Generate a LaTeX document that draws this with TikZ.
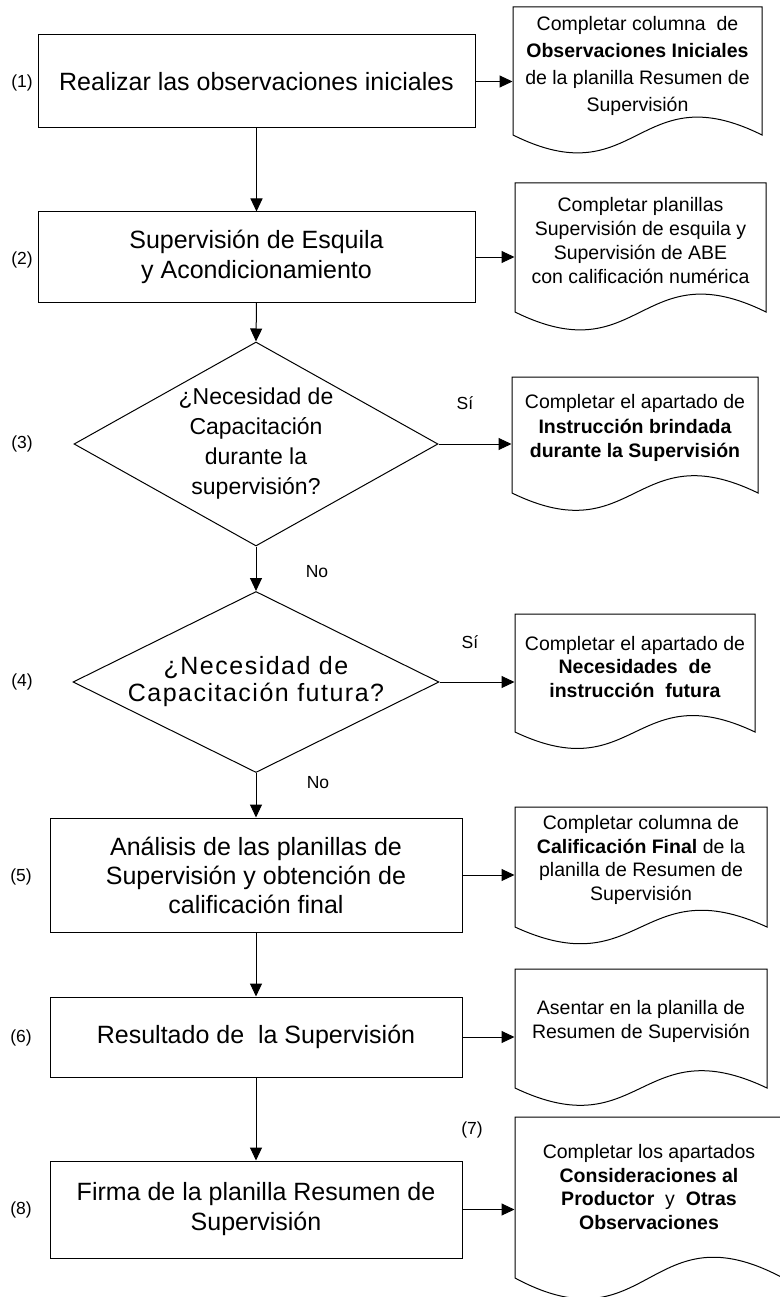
\documentclass[tikz,border=0pt]{standalone}
\usepackage{fontspec}
\setmainfont{Liberation Sans}
\newfontfamily\trk[LetterSpace=6]{Liberation Sans}
\usetikzlibrary{arrows.meta,shapes.geometric}
\newcommand\mydocshape[5]{%
  \draw[docline] (#1,#4) -- (#1,#3) -- (#2,#3) -- (#2,#4)
    .. controls ({(#1+#2)/2},{#4-#5}) and ({(#1+#2)/2},{#4+#5}) .. (#1,#4) -- cycle;}
\begin{document}
\begin{tikzpicture}[x=1pt,y=-1pt,line width=1pt,
  proc/.style={draw, rectangle, inner sep=0pt, align=center, font=\fontsize{25}{30}\selectfont},
  decision/.style={draw, diamond, inner sep=0pt},
  dtext/.style={align=center, inner sep=0pt},
  doctext/.style={align=center, inner sep=0pt, font=\fontsize{19.5}{24}\selectfont},
  docline/.style={draw, line width=1pt},
  lbl/.style={inner sep=0pt, font=\fontsize{17.5}{20}\selectfont},
  flow/.style={draw, -{Triangle[length=13pt,width=12pt]}},
]
\useasboundingbox (0,0) rectangle (779,1297);

% process boxes
\node[proc, minimum width=437, minimum height=93] (box1) at (256.5,81.5) {Realizar las observaciones iniciales};
\node[proc, minimum width=437, minimum height=90] (box2) at (256.5,257) {Supervisión de Esquila\\y Acondicionamiento};
\node[decision, minimum width=364, minimum height=204] (d1) at (256,444) {};
\node[dtext, font=\fontsize{23}{30}\selectfont] (d1t) at (d1.center) {¿Necesidad de\\Capacitación\\durante la\\supervisión?};
\node[decision, minimum width=366, minimum height=181] (d2) at (256,682) {};
\node[dtext, font=\trk\fontsize{25}{27}\selectfont] (d2t) at (d2.center) {¿Necesidad de\\Capacitación futura?};
\node[proc, minimum width=412, minimum height=114, font=\fontsize{25}{29}\selectfont] (box5) at (256,875) {Análisis de las planillas de\\Supervisión y obtención de\\calificación final};
\node[proc, minimum width=412, minimum height=80] (box6) at (256,1037) {Resultado de~ la Supervisión};
\node[proc, minimum width=412, minimum height=97] (box8) at (256,1209.5) {Firma de la planilla Resumen de\\Supervisión};

% documents
\mydocshape{513}{762}{7}{135}{62}
\node[doctext, minimum width=249, font=\fontsize{19.5}{27}\selectfont] (doc1) at (637.5,66) {Completar columna~ de\\\textbf{Observaciones Iniciales}\\de la planilla Resumen de\\Supervisión};
\mydocshape{515}{766}{183}{312}{62}
\node[doctext, minimum width=251] (doc2) at (640.5,240.5) {Completar planillas\\Supervisión de esquila y\\Supervisión de ABE\\con calificación numérica};
\mydocshape{512}{758}{377}{493}{60}
\node[doctext, minimum width=246, font=\fontsize{19.5}{24.5}\selectfont] (doc3) at (635,428) {Completar el apartado de\\\textbf{Instrucción brindada}\\\textbf{durante la Supervisión}};
\mydocshape{515}{755}{614}{732}{57}
\node[doctext, minimum width=240, font=\fontsize{19.5}{23.5}\selectfont] (doc4) at (635,667) {Completar el apartado de\\\textbf{Necesidades~ de}\\\textbf{instrucción~ futura}};
\mydocshape{515}{767}{807}{927}{58}
\node[doctext, minimum width=252, font=\fontsize{19.5}{23.5}\selectfont] (doc5) at (641,860) {Completar columna de\\\textbf{Calificación Final} de la\\planilla de Resumen de\\Supervisión};
\mydocshape{515}{767}{969}{1088}{60}
\node[doctext, minimum width=252] (doc6) at (641,1021) {Asentar en la planilla de\\Resumen de Supervisión};
\mydocshape{515}{783}{1117}{1278}{72}
\node[doctext, minimum width=268, font=\fontsize{19.5}{23.7}\selectfont] (doc7) at (649,1187) {Completar los apartados\\\textbf{Consideraciones al}\\\textbf{Productor}~ y~ \textbf{Otras}\\\textbf{Observaciones}};

% step labels
\node[lbl] (n1) at (22,83) {(1)};
\node[lbl] (n2) at (22,260) {(2)};
\node[lbl] (n3) at (22,444) {(3)};
\node[lbl] (n4) at (22,682) {(4)};
\node[lbl] (n5) at (21,877) {(5)};
\node[lbl] (n6) at (21,1038) {(6)};
\node[lbl] (n7) at (472,1130) {(7)};
\node[lbl] (n8) at (21,1210) {(8)};
\node[lbl] (si1) at (465,403) {Sí};
\node[lbl] (si2) at (470,642) {Sí};
\node[lbl] (no1) at (317,572) {No};
\node[lbl] (no2) at (318,783) {No};

% vertical flow
\draw[flow] (box1.south) -- (box2.north);
\draw[flow] (box2.south) -- (d1.north);
\draw[flow] (d1.south) -- (d2.north);
\draw[flow] (d2.south) -- (box5.north);
\draw[flow] (box5.south) -- (box6.north);
\draw[flow] (box6.south) -- (box8.north);

% horizontal flow to documents
\draw[flow] (box1.east) -- (box1.east -| doc1.west);
\draw[flow] (box2.east) -- (box2.east -| doc2.west);
\draw[flow] (d1.east) -- (d1.east -| doc3.west);
\draw[flow] (d2.east) -- (d2.east -| doc4.west);
\draw[flow] (box5.east) -- (box5.east -| doc5.west);
\draw[flow] (box6.east) -- (box6.east -| doc6.west);
\draw[flow] (box8.east) -- (box8.east -| doc7.west);
\end{tikzpicture}
\end{document}
